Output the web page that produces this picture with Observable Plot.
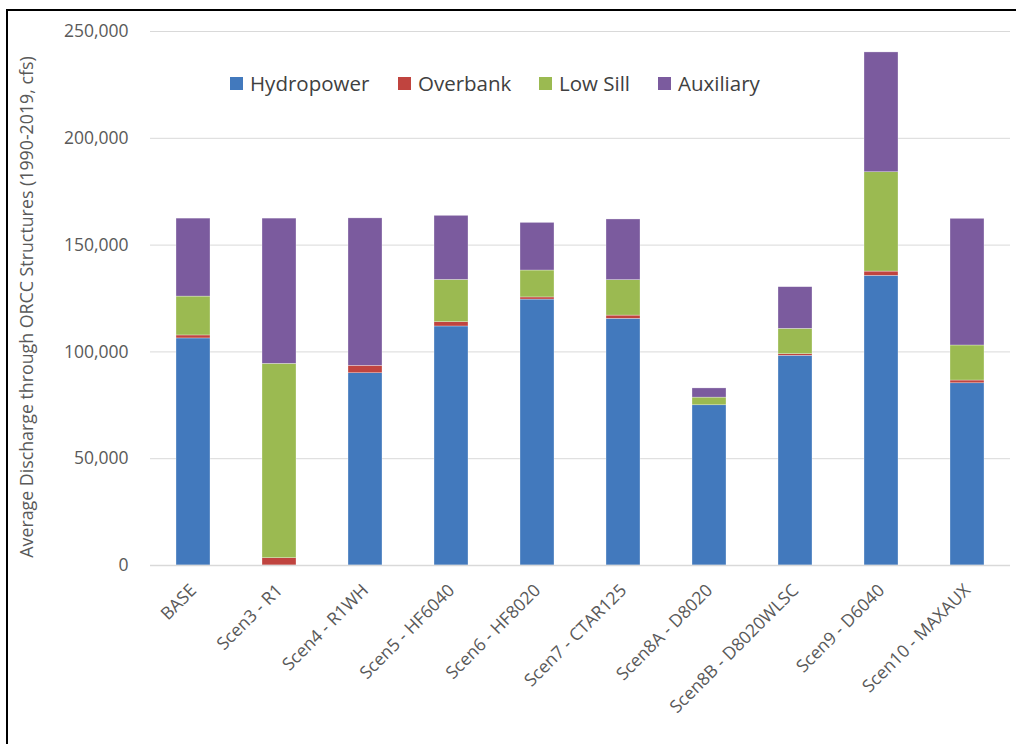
<!DOCTYPE html>
<html>
<head>
<meta charset="utf-8">
<script src="https://cdn.jsdelivr.net/npm/d3@7"></script>
<script src="https://cdn.jsdelivr.net/npm/@observablehq/plot@0.6"></script>
<style>
  html, body { margin: 0; padding: 0; background: #fff; }
  #wrap { position: relative; width: 1016px; height: 744px; overflow: hidden; font-family: "Open Sans", sans-serif; }
  #frame { position: absolute; left: 6px; top: 9px; width: 1100px; height: 800px; border-top: 2px solid #000; border-left: 2px solid #000; pointer-events: none; }
  #legend { position: absolute; top: 0; left: 0; font-size: 20.5px; color: #404040; }
  .item { position: absolute; top: 69px; display: flex; align-items: center; white-space: nowrap; }
  .item:nth-child(1) { left: 230px; }
  .item:nth-child(2) { left: 398px; }
  .item:nth-child(3) { left: 539px; }
  .item:nth-child(4) { left: 658px; }
  .sw { width: 13px; height: 13px; margin-right: 7px; }
  #ylabel { position: absolute; left: 26px; top: 307px; transform: translate(-50%, -50%) rotate(-90deg); white-space: nowrap; font-size: 17.8px; color: #595959; }
</style>
</head>
<body>
<div id="wrap">
  <div id="chart"></div>
  <div id="ylabel"></div>
  <div id="frame"></div>
  <div id="legend"></div>
</div>
<script>
const categories = ["BASE", "Scen3 - R1", "Scen4 - R1WH", "Scen5 - HF6040", "Scen6 - HF8020", "Scen7 - CTAR125", "Scen8A - D8020", "Scen8B - D8020WLSC", "Scen9 - D6040", "Scen10 - MAXAUX"];
const seriesNames = ["Hydropower", "Overbank", "Low Sill", "Auxiliary"];
const colors = ["#4279BD", "#C0443F", "#9BBA51", "#7B5B9E"];
const hydropower = [106300, 0, 90000, 111900, 124500, 115500, 75000, 98200, 135600, 85300];
const overbank   = [1400, 3400, 3500, 2000, 1000, 1500, 0, 700, 2000, 1300];
const lowSill    = [18200, 91000, 0, 19800, 12600, 16600, 3600, 11900, 46500, 16400];
const auxiliary  = [36500, 68000, 69000, 30000, 22300, 28400, 4300, 19500, 56100, 59300];
const yTicks = [0, 50000, 100000, 150000, 200000, 250000];
const yTitle = "Average Discharge through ORCC Structures (1990-2019, cfs)";

const seriesValues = [hydropower, overbank, lowSill, auxiliary];
const data = [];
categories.forEach((c, i) => {
  seriesNames.forEach((s, j) => data.push({category: c, series: s, value: seriesValues[j][i]}));
});

const chart = Plot.plot({
  width: 1016,
  height: 744,
  marginLeft: 150,
  marginRight: 6,
  marginTop: 31,
  marginBottom: 179,
  style: {fontFamily: "Open Sans, sans-serif", fontSize: "17px", color: "#595959", background: "#fff"},
  x: {domain: categories, paddingInner: 0.6, paddingOuter: 0.3, label: null},
  y: {domain: [0, 250000], label: null},
  color: {domain: seriesNames, range: colors},
  marks: [
    Plot.gridY(yTicks, {stroke: "#d9d9d9", strokeOpacity: 1, strokeWidth: 1}),
    Plot.barY(data, {x: "category", y: "value", fill: "series", z: "series", stroke: "#ffffff", strokeWidth: 0.5, strokeOpacity: 0.6}),
    Plot.ruleY([0], {stroke: "#d9d9d9", strokeWidth: 1.5}),
    Plot.axisY({ticks: yTicks, tickSize: 0, tickPadding: 22, tickFormat: d => d3.format(",")(d), fill: "#595959", fontSize: 17.5, label: null}),
    Plot.axisX({tickSize: 0, tickPadding: 22, tickRotate: -45, fill: "#595959", fontSize: 17.5, label: null})
  ]
});
document.getElementById("chart").appendChild(chart);
document.getElementById("ylabel").textContent = yTitle;

const legend = document.getElementById("legend");
seriesNames.forEach((s, j) => {
  const it = document.createElement("div");
  it.className = "item";
  const sw = document.createElement("div");
  sw.className = "sw";
  sw.style.background = colors[j];
  const t = document.createElement("span");
  t.textContent = s;
  it.appendChild(sw); it.appendChild(t);
  legend.appendChild(it);
});
</script>
</body>
</html>
